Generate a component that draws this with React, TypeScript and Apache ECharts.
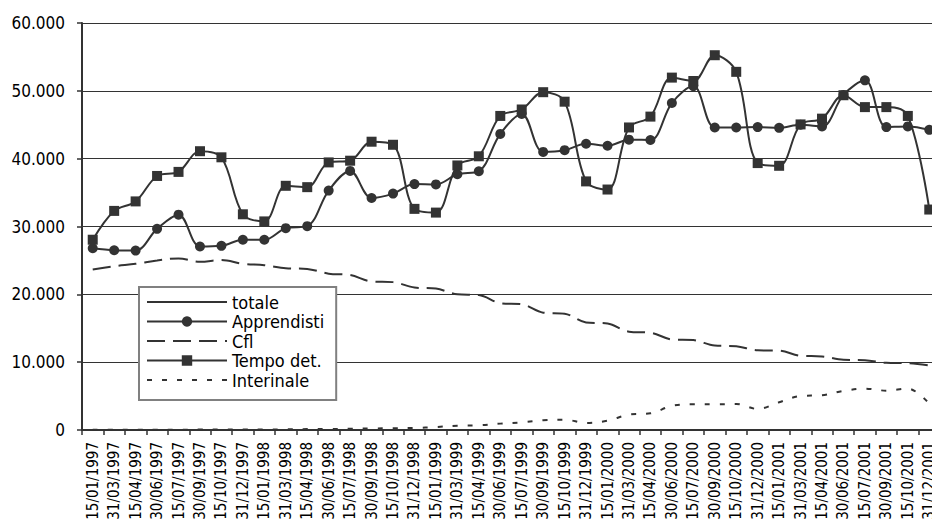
import { useEffect, useRef } from "react";
import * as echarts from "echarts";

// Survey dates (category axis)
const dates = [
  "15/01/1997", "31/03/1997", "15/04/1997", "30/06/1997", "15/07/1997", "30/09/1997", "15/10/1997", "31/12/1997",
  "15/01/1998", "31/03/1998", "15/04/1998", "30/06/1998", "15/07/1998", "30/09/1998", "15/10/1998", "31/12/1998",
  "15/01/1999", "31/03/1999", "15/04/1999", "30/06/1999", "15/07/1999", "30/09/1999", "15/10/1999", "31/12/1999",
  "15/01/2000", "31/03/2000", "15/04/2000", "30/06/2000", "15/07/2000", "30/09/2000", "15/10/2000", "31/12/2000",
  "15/01/2001", "31/03/2001", "15/04/2001", "30/06/2001", "15/07/2001", "30/09/2001", "15/10/2001", "31/12/2001",
];

// Totals run above the 60.000 ceiling of the value axis, so no points are plotted for them
const totale: number[] = [];

const apprendisti = [
  26800, 26500, 26450, 29650, 31750, 27050, 27150, 28050,
  28050, 29750, 30050, 35300, 38200, 34200, 34850, 36250,
  36200, 37700, 38150, 43650, 46600, 41000, 41250, 42200,
  41900, 42800, 42750, 48200, 50700, 44600, 44600, 44650,
  44550, 45000, 44750, 49400, 51550, 44650, 44750, 44250,
];

const cfl = [
  23650, 24150, 24500, 25000, 25300, 24800, 25050, 24500,
  24300, 23850, 23750, 23050, 22850, 21900, 21800, 21000,
  20850, 20000, 19900, 18700, 18550, 17300, 17150, 15850,
  15700, 14500, 14350, 13350, 13250, 12450, 12350, 11750,
  11700, 10950, 10850, 10350, 10300, 9900, 9850, 9500,
];

const tempoDet = [
  28050, 32300, 33700, 37450, 38050, 41100, 40200, 31800,
  30750, 36000, 35800, 39450, 39700, 42500, 42050, 32600,
  32050, 39000, 40350, 46300, 47250, 49800, 48400, 36650,
  35450, 44600, 46200, 51950, 51450, 55250, 52800, 39350,
  38950, 45050, 45900, 49350, 47600, 47600, 46300, 32500,
];

const interinale = [
  50, 50, 50, 50, 50, 60, 60, 80,
  80, 100, 130, 150, 180, 220, 260, 300,
  440, 640, 690, 940, 1130, 1430, 1530, 1030,
  1380, 2270, 2460, 3550, 3790, 3790, 3840, 3100,
  4090, 5020, 5120, 5760, 6100, 5800, 6100, 3900,
];

const FONT = '"DejaVu Sans Condensed", "DejaVu Sans", sans-serif';
const INK = "#333333";

// Italian thousands separator: 60000 -> "60.000"
function itNumber(v: number): string {
  return String(Math.round(v)).replace(/\B(?=(\d{3})+(?!\d))/g, ".");
}

export default function App() {
  const ref = useRef<HTMLDivElement>(null);

  useEffect(() => {
    if (!ref.current) return;
    const chart = echarts.init(ref.current, null, { renderer: "svg" });

    const baseLine = { color: INK, width: 2 };
    // legend entries of marker-less series show only their line
    const lineOnly = { opacity: 0 };

    chart.setOption({
      animation: false,
      backgroundColor: "#ffffff",
      textStyle: { fontFamily: FONT },
      grid: {
        left: 82,
        top: 23,
        width: 858,
        height: 407,
        containLabel: false,
        outerBoundsMode: "none",
      },
      legend: {
        orient: "vertical",
        left: 139,
        top: 287,
        backgroundColor: "#ffffff",
        borderColor: "#808080",
        borderWidth: 2,
        borderRadius: 0,
        padding: [6, 12, 11, 7],
        itemWidth: 80,
        itemHeight: 13,
        itemGap: 1.5,
        selectedMode: false,
        textStyle: { fontFamily: FONT, fontSize: 18, color: "#000", lineHeight: 18 },
        data: [
          { name: "totale", itemStyle: lineOnly },
          { name: "Apprendisti" },
          { name: "Cfl", itemStyle: lineOnly },
          { name: "Tempo det." },
          { name: "Interinale", itemStyle: lineOnly },
        ],
      },
      xAxis: {
        type: "category",
        data: dates,
        boundaryGap: true,
        axisLine: { lineStyle: { color: INK, width: 2 } },
        axisTick: { show: true, interval: 0, length: 5, lineStyle: { color: INK, width: 1.5 } },
        axisLabel: {
          interval: 0,
          rotate: 90,
          margin: 12,
          fontFamily: FONT,
          fontSize: 15,
          color: "#000",
        },
      },
      yAxis: {
        type: "value",
        min: 0,
        max: 60000,
        interval: 10000,
        axisLine: { show: true, lineStyle: { color: INK, width: 2 } },
        axisTick: { show: true, length: 5, lineStyle: { color: INK, width: 1.5 } },
        splitLine: { show: true, lineStyle: { color: INK, width: 1 } },
        axisLabel: {
          margin: 17,
          fontFamily: FONT,
          fontSize: 17,
          color: "#000",
          formatter: (v: number) => itNumber(v),
        },
      },
      series: [
        {
          name: "totale",
          type: "line",
          data: totale,
          symbol: "none",
          smooth: 0.35,
          lineStyle: baseLine,
          itemStyle: { color: INK },
        },
        {
          name: "Apprendisti",
          type: "line",
          data: apprendisti,
          symbol: "circle",
          symbolSize: 10,
          smooth: 0.35,
          lineStyle: baseLine,
          itemStyle: { color: INK },
        },
        {
          name: "Cfl",
          type: "line",
          data: cfl,
          symbol: "none",
          smooth: 0.35,
          lineStyle: { ...baseLine, type: [18, 8] },
          itemStyle: { color: INK },
        },
        {
          name: "Tempo det.",
          type: "line",
          data: tempoDet,
          symbol: "rect",
          symbolSize: 10,
          smooth: 0.35,
          lineStyle: baseLine,
          itemStyle: { color: INK },
        },
        {
          name: "Interinale",
          type: "line",
          data: interinale,
          symbol: "none",
          smooth: 0.35,
          lineStyle: { ...baseLine, type: [5, 10] },
          itemStyle: { color: INK },
        },
      ],
    });

    return () => chart.dispose();
  }, []);

  return (
    <div
      ref={ref}
      style={{ position: "absolute", left: 0, top: 0, width: 932, height: 522 }}
    />
  );
}
